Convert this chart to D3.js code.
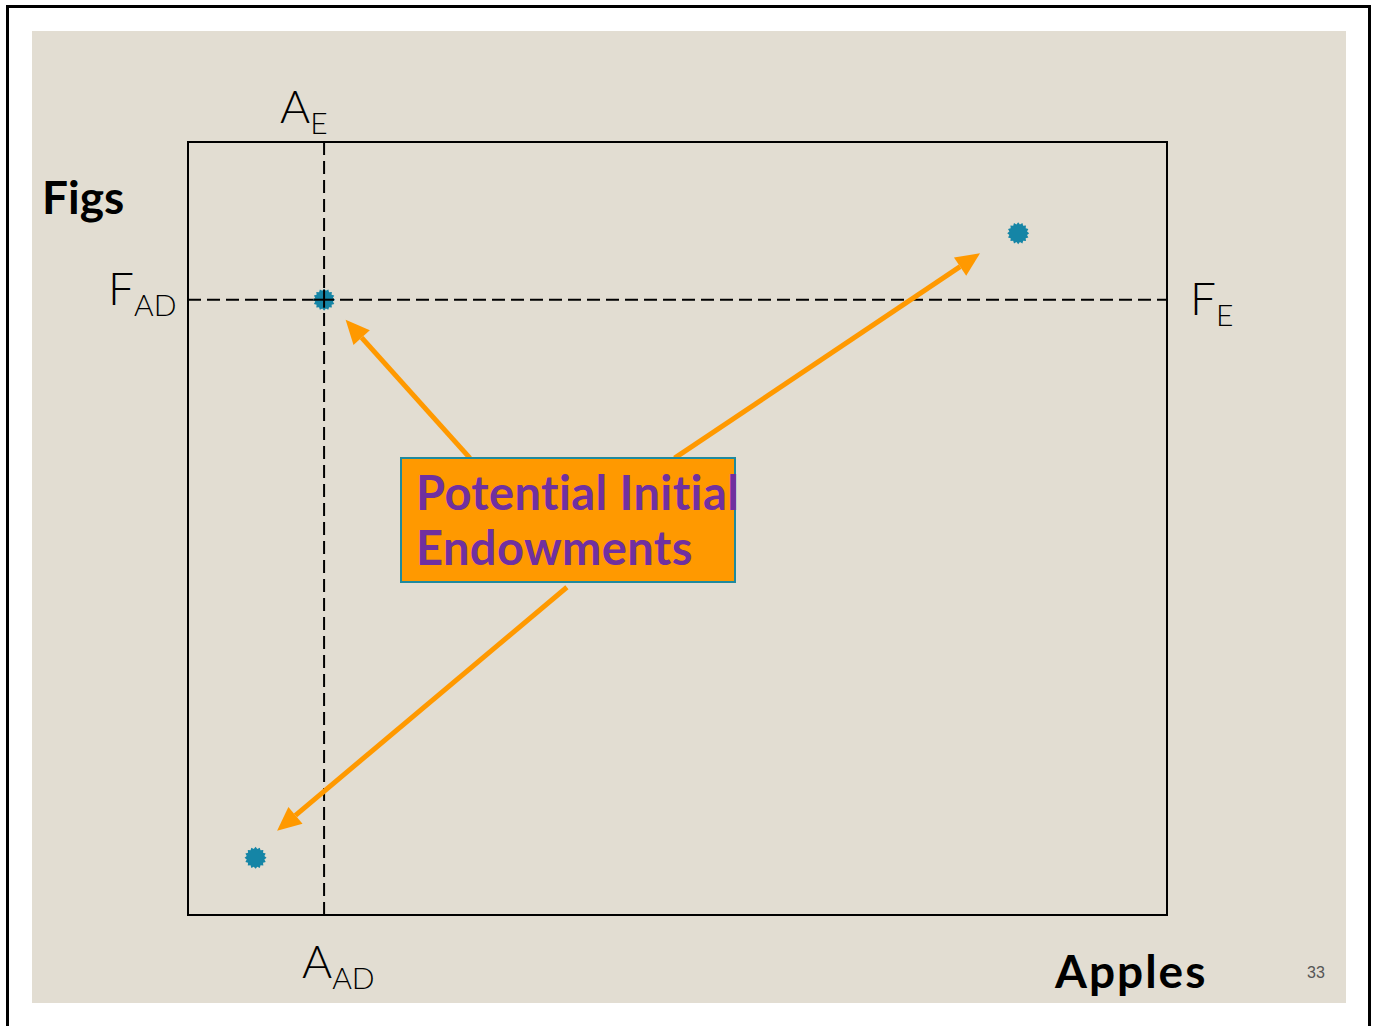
<!DOCTYPE html>
<html><head><meta charset="utf-8">
<script src="https://cdn.jsdelivr.net/npm/d3@7"></script>
<style>html,body{margin:0;padding:0;background:#fff;}svg{display:block;}</style>
</head><body>
<script>
// Data
const pointNames = ["interior", "upperRight", "lowerLeft"];
const pointX = [13.9, 84.8, 6.9];
const pointY = [79.6, 88.2, 7.4];
const guideX = [13.9];   // A_AD / A_E
const guideY = [79.6];   // F_AD / F_E
// arrows: [fromX, fromY, toX, toY] in data units
const arrowFromX = [28.8, 49.7, 38.7];
const arrowFromY = [59.1, 59.1, 42.4];
const arrowToX = [16.1, 80.9, 9.1];
const arrowToY = [77.0, 85.6, 10.9];
const labelText = ["Potential Initial", "Endowments"];

const W = 1377, H = 1026;
const svg = d3.select("body").append("svg").attr("width", W).attr("height", H);

// outer frame
svg.append("rect").attr("x", 7.5).attr("y", 6.5).attr("width", 1362).attr("height", 1030)
  .attr("fill", "#fff").attr("stroke", "#000").attr("stroke-width", 3);
svg.append("rect").attr("x", 32).attr("y", 31).attr("width", 1314).attr("height", 972).attr("fill", "#e2ddd2");

const x = d3.scaleLinear().domain([0, 100]).range([188, 1167]);
const y = d3.scaleLinear().domain([0, 100]).range([915, 142]);

// box
svg.append("rect").attr("x", x(0)).attr("y", y(100)).attr("width", x(100) - x(0)).attr("height", y(0) - y(100))
  .attr("fill", "none").attr("stroke", "#000").attr("stroke-width", 2);

// dashed guides
guideX.forEach(g => svg.append("line").attr("x1", x(g)).attr("x2", x(g)).attr("y1", y(100)).attr("y2", y(0))
  .attr("stroke", "#000").attr("stroke-width", 2).attr("stroke-dasharray", "13,6"));
guideY.forEach(g => svg.append("line").attr("x1", x(0)).attr("x2", x(100)).attr("y1", y(g)).attr("y2", y(g))
  .attr("stroke", "#000").attr("stroke-width", 2).attr("stroke-dasharray", "13,6"));

// arrows
const orange = "#ff9900";
arrowFromX.forEach((fx, i) => {
  const x1 = x(fx), y1 = y(arrowFromY[i]), x2 = x(arrowToX[i]), y2 = y(arrowToY[i]);
  const ang = Math.atan2(y2 - y1, x2 - x1);
  const L = 24, Wd = 11;
  const bx = x2 - L * Math.cos(ang), by = y2 - L * Math.sin(ang);
  svg.append("line").attr("x1", x1).attr("y1", y1).attr("x2", bx).attr("y2", by)
    .attr("stroke", orange).attr("stroke-width", 5);
  const px = -Math.sin(ang), py = Math.cos(ang);
  svg.append("polygon").attr("points", [[x2, y2], [bx + px * Wd, by + py * Wd], [bx - px * Wd, by - py * Wd]].map(p => p.join(",")).join(" "))
    .attr("fill", orange);
});

// starburst points
function star(cx, cy, n, ro, ri) {
  const pts = [];
  for (let k = 0; k < 2 * n; k++) {
    const r = k % 2 === 0 ? ro : ri;
    const a = Math.PI * k / n;
    pts.push([cx + r * Math.cos(a), cy + r * Math.sin(a)]);
  }
  return pts.map(p => p.join(",")).join(" ");
}
pointX.forEach((px, i) => {
  svg.append("polygon").attr("points", star(x(px), y(pointY[i]), 16, 11, 9)).attr("fill", "#1585a6");
});
// redraw guide crossing over the interior dot
svg.append("line").attr("x1", x(guideX[0])).attr("x2", x(guideX[0])).attr("y1", y(guideY[0]) - 10).attr("y2", y(guideY[0]) + 8)
  .attr("stroke", "#000").attr("stroke-width", 2);
svg.append("line").attr("x1", x(guideX[0]) - 10).attr("x2", x(guideX[0]) + 10).attr("y1", y(guideY[0])).attr("y2", y(guideY[0]))
  .attr("stroke", "#000").attr("stroke-width", 2);

// label box
svg.append("rect").attr("x", 401).attr("y", 458).attr("width", 334).attr("height", 124)
  .attr("fill", "#ff9900").attr("stroke", "#1f8a9e").attr("stroke-width", 2);
labelText.forEach((t, i) => {
  svg.append("text").attr("x", 416).attr("y", 510 + i * 55).text(t)
    .attr("font-family", "Lato, 'Open Sans', sans-serif").attr("font-weight", "bold").attr("font-size", 47)
    .attr("letter-spacing", 0.4)
    .attr("fill", "#7030a0");
});

const F = "Lato, 'Open Sans', sans-serif";
function sub(xp, yp, main, s, anchor) {
  const t = svg.append("text").attr("x", xp).attr("y", yp).attr("font-family", F).attr("font-weight", 300).attr("fill", "#000");
  t.append("tspan").text(main).attr("font-size", 46);
  t.append("tspan").text(s).attr("font-size", 30).attr("dy", 11);
}
sub(280, 123, "A", "E");
sub(108, 305, "F", "AD");
sub(1190, 315, "F", "E");
sub(302, 978, "A", "AD");

svg.append("text").attr("x", 42).attr("y", 214).text("Figs").attr("font-family", F).attr("font-weight", "bold").attr("font-size", 46).attr("fill", "#000");
svg.append("text").attr("x", 1055).attr("y", 988).text("Apples").attr("font-family", F).attr("font-weight", "bold").attr("font-size", 46).attr("letter-spacing", 2).attr("fill", "#000");
svg.append("text").attr("x", 1307).attr("y", 978).text("33").attr("font-family", "'Liberation Sans', Arial, sans-serif").attr("font-size", 16).attr("fill", "#555");
</script>
</body></html>
